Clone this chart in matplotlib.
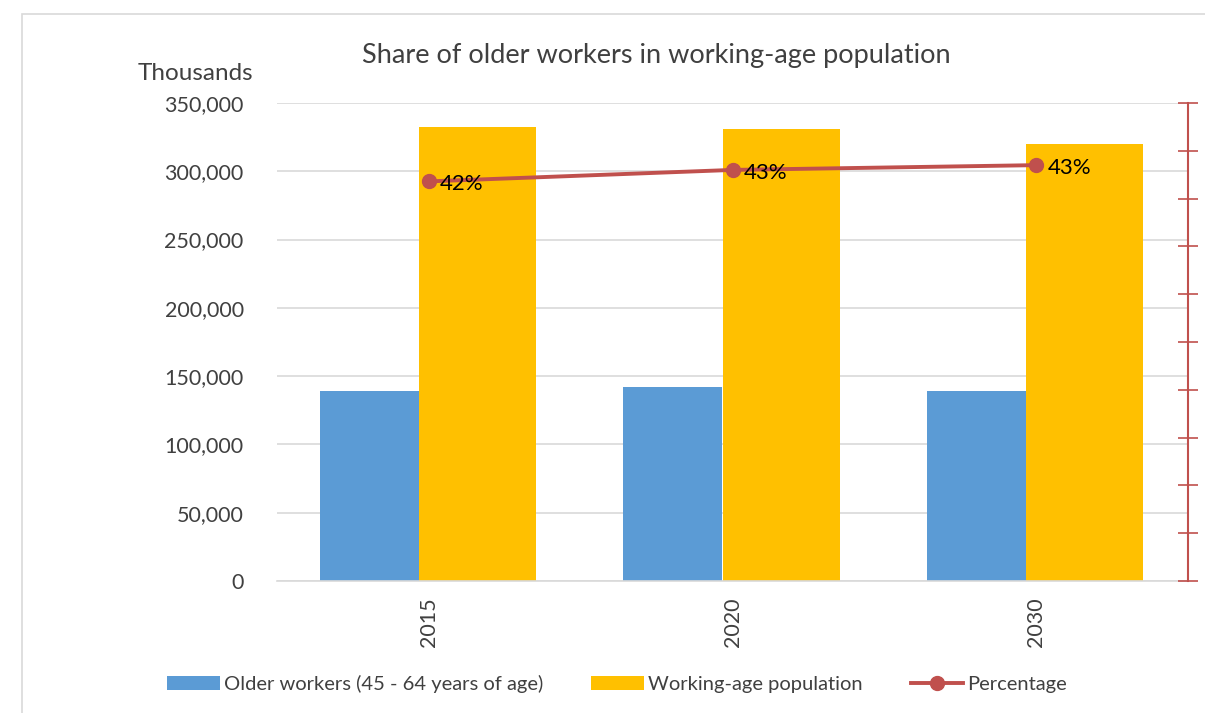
import matplotlib.pyplot as plt
import numpy as np
from matplotlib.patches import Rectangle

plt.rcParams['font.family'] = ['Lato', 'DejaVu Sans']

years = ['2015', '2020', '2030']
older_workers = [139100, 142000, 139200]
working_age = [332400, 331000, 320000]
percentage = [0.418, 0.430, 0.435]
pct_labels = ['42%', '43%', '43%']

blue = '#5B9BD5'
gold = '#FFC000'
red = '#C0504D'
grid = '#D9D9D9'
txt = '#404040'

fig = plt.figure(figsize=(12.05, 7.13), dpi=100)
fig.patches.append(Rectangle((22 / 1205, -0.01), 1.2, 1 - 14 / 713 + 0.01,
                             transform=fig.transFigure, fill=False,
                             edgecolor='#D9D9D9', linewidth=1.2))

ax = fig.add_axes([277 / 1205, 1 - 581 / 713, (1188 - 277) / 1205, (581 - 103) / 713])
x = np.arange(len(years))

ax.bar(x - 0.196, older_workers, width=0.326, color=blue, label='Older workers (45 - 64 years of age)', zorder=2)
ax.bar(x + 0.160, working_age, width=0.385, color=gold, label='Working-age population', zorder=2)

ax.set_xlim(-0.5, 2.5)
ax.set_ylim(0, 350000)
ax.set_yticks(np.arange(0, 350001, 50000))
ax.set_yticklabels([f'{v:,}' for v in range(0, 350001, 50000)], fontsize=15.5, color=txt)
ax.yaxis.grid(True, color=grid, linewidth=1.2, zorder=0)
ax.set_axisbelow(True)
ax.tick_params(axis='y', length=0, pad=24)
ax.set_xticks(x)
ax.set_xticklabels(years, rotation=90, fontsize=15.5, color=txt)
ax.tick_params(axis='x', length=0, pad=12)
for s in ['top', 'left', 'right']:
    ax.spines[s].set_visible(False)
ax.spines['bottom'].set_color(grid)
ax.spines['bottom'].set_linewidth(1.2)

ax2 = ax.twinx()
ax2.plot(x, percentage, color=red, linewidth=2.8, marker='o', markersize=10, label='Percentage')
ax2.set_ylim(0, 0.5)
ax2.set_yticks(np.arange(0, 0.501, 0.05))
ax2.set_yticklabels([])
ax2.tick_params(axis='y', direction='inout', length=14, width=1.2, color=red)
for s in ['top', 'left', 'bottom']:
    ax2.spines[s].set_visible(False)
ax2.spines['right'].set_color(red)
ax2.spines['right'].set_linewidth(1.5)

for xi, p, lab in zip(x, percentage, pct_labels):
    ax2.annotate(lab, (xi, p), xytext=(8, -2), textcoords='offset points',
                 ha='left', va='center', fontsize=16, color='black')

fig.text(656 / 1205, 1 - 56 / 713, 'Share of older workers in working-age population',
         ha='center', va='center', fontsize=19.5, color=txt)
fig.text(253 / 1205, 1 - 73 / 713, 'Thousands', ha='right', va='center',
         fontsize=17.5, color=txt)

h1, l1 = ax.get_legend_handles_labels()
h2, l2 = ax2.get_legend_handles_labels()
fig.legend(h1 + h2, l1 + l2, loc='center', bbox_to_anchor=(617 / 1205, 1 - 684 / 713),
           ncol=3, frameon=False, fontsize=14.5, handlelength=2.6, handleheight=0.7,
           columnspacing=2.4, handletextpad=0.2, labelcolor=txt)

fig.savefig('out.png', dpi=100)
